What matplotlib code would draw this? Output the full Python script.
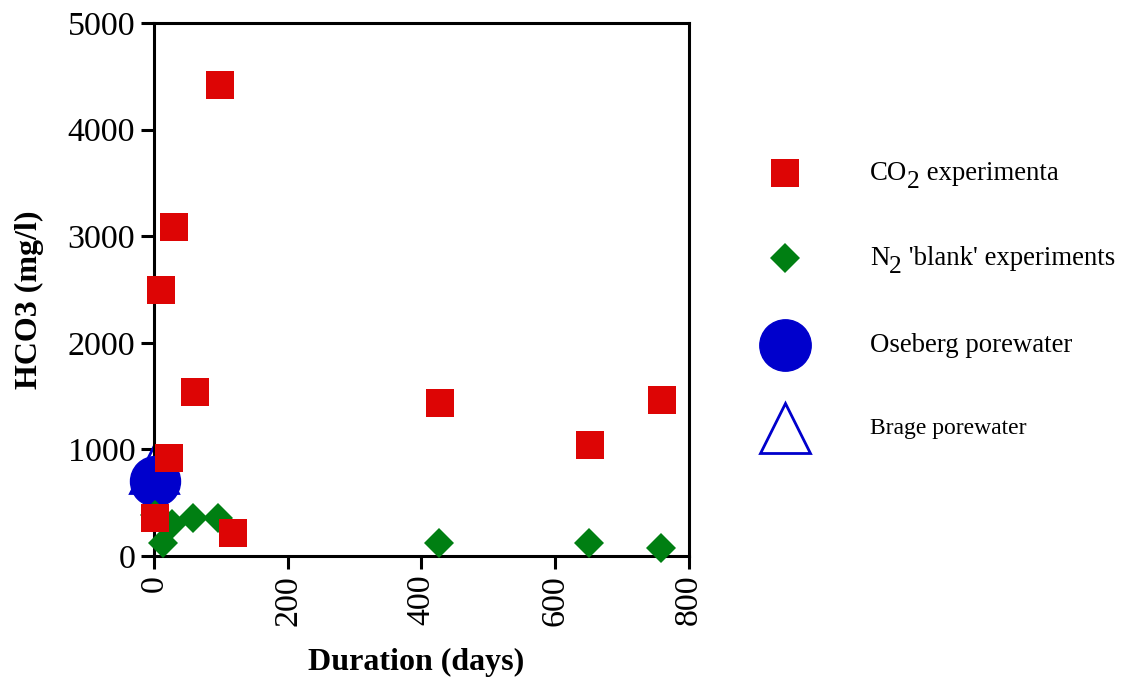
import matplotlib
matplotlib.use('Agg')
import matplotlib.pyplot as plt
import numpy as np

# 字体设置：Times 风格
plt.rcParams['font.family'] = ['Liberation Serif', 'DejaVu Serif']

# 数据
co2_days = [98, 30, 10, 62, 22, 2, 118, 428, 652, 759]
co2_hco3 = [4418, 3089, 2492, 1541, 917, 361, 216, 1438, 1038, 1463]

n2_days = [1, 14, 27, 59, 96, 426, 650, 758]
n2_hco3 = [385, 125, 297, 354, 354, 125, 125, 72]

oseberg_days = [2]
oseberg_hco3 = [700]

brage_days = [0]
brage_hco3 = [820]

x_ticks = [0, 200, 400, 600, 800]
y_ticks = [0, 1000, 2000, 3000, 4000, 5000]

red = '#dd0505'
green = '#007f12'
blue = '#0000cc'

fig = plt.figure(figsize=(11.22, 6.86), dpi=100)
ax = fig.add_axes([154/1122, 1-556/686, 535/1122, 533/686])

# 各系列
ax.plot(brage_days, brage_hco3, linestyle='none', marker='^', ms=34,
        mfc='white', mec=blue, mew=2, zorder=2, clip_on=False)
ax.plot(oseberg_days, oseberg_hco3, linestyle='none', marker='o', ms=36,
        mfc=blue, mec=blue, zorder=3, clip_on=False)
ax.plot(n2_days, n2_hco3, linestyle='none', marker='D', ms=14.8,
        mfc=green, mec=green, mew=0, zorder=4, clip_on=False)
ax.plot(co2_days, co2_hco3, linestyle='none', marker='s', ms=20.5,
        mfc=red, mec=red, mew=0, zorder=5, clip_on=False)

ax.set_xlim(0, 800)
ax.set_ylim(0, 5000)
ax.set_xticks(x_ticks)
ax.set_yticks(y_ticks)
ax.set_xticklabels([str(t) for t in x_ticks], rotation=90, fontsize=24.5)
ax.set_yticklabels([str(t) for t in y_ticks], fontsize=24.5)
ax.tick_params(direction='out', length=9.5, width=2.2, pad=4)
for sp in ax.spines.values():
    sp.set_linewidth(2.2)

ax.set_xlabel('Duration (days)', fontsize=23, fontweight='bold')
ax.set_ylabel('HCO3 (mg/l)', fontsize=23, fontweight='bold')
ax.xaxis.set_label_coords(0.49, -0.172, transform=ax.transAxes)
ax.yaxis.set_label_coords(-0.205, 0.48, transform=ax.transAxes)

# 图例（手工绘制）
lax = fig.add_axes([0, 0, 1, 1])
lax.set_xlim(0, 1122)
lax.set_ylim(686, 0)
lax.axis('off')
fig.canvas.draw()
renderer = fig.canvas.get_renderer()


def put_label(x, y, parts, fs):
    # parts: list of (text, is_subscript)
    px, py = lax.transData.transform((x, y))
    py = py - fs * 0.36  # baseline
    for s, sub in parts:
        if sub:
            t = fig.text(px, py - fs * 0.42, s, fontsize=fs * 0.95,
                         va='baseline', ha='left', transform=None)
        else:
            t = fig.text(px, py, s, fontsize=fs, va='baseline', ha='left',
                         transform=None)
        px = t.get_window_extent(renderer).x1


legend_rows = [
    ('s', dict(ms=20.5, mfc=red, mec=red, mew=0),
     [('CO', False), ('2', True), (' experimenta', False)], 19.3),
    ('D', dict(ms=14.8, mfc=green, mec=green, mew=0),
     [('N', False), ('2', True), (" 'blank' experiments", False)], 19.3),
    ('o', dict(ms=37, mfc=blue, mec=blue),
     [('Oseberg porewater', False)], 19.3),
    ('^', dict(ms=36, mfc='white', mec=blue, mew=2),
     [('Brage porewater', False)], 17),
]
row_y = [173, 258, 345, 428]
for (mk, style, parts, fs), y in zip(legend_rows, row_y):
    lax.plot([785], [y], linestyle='none', marker=mk, **style)
    put_label(870, y, parts, fs)

plt.savefig('out.png', dpi=100)
plt.close()
